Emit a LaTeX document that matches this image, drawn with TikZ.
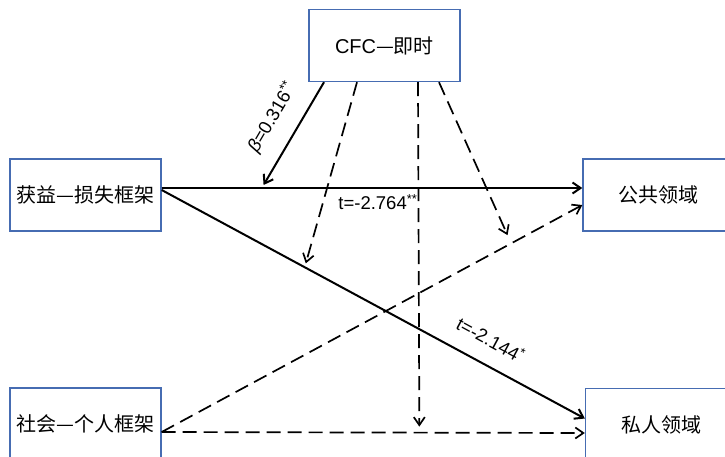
\documentclass[tikz,border=0pt]{standalone}
\usepackage{fontspec}
\setmainfont{Liberation Sans}
\newfontfamily\cjk{Noto Sans CJK SC}
\usetikzlibrary{arrows.meta, calc}
\definecolor{boxblue}{RGB}{70,108,178}
\begin{document}
\begin{tikzpicture}[x=1pt, y=-1pt,
  box/.style={draw=boxblue, line width=1.4pt, minimum width=151pt, minimum height=72pt, inner sep=0pt, font=\fontsize{20}{22}\selectfont\cjk},
  solidarrow/.style={line width=2pt, -{Straight Barb[length=8pt, width=11pt]}},
  dasharrow/.style={solidarrow, line width=1.7pt, dash pattern=on 14pt off 7pt},
  lab/.style={font=\fontsize{18.5}{20}\selectfont}]
\useasboundingbox (0,0) rectangle (725,456);
\clip (0,0) rectangle (725,456);
\node[box] (cfc) at (384.5,45.5) {{\rmfamily CFC}—即时};
\node[box] (gain) at (85.5,195) {获益—损失框架};
\node[box] (soc) at (85.5,424) {社会—个人框架};
\node[box] (pub) at (658.5,195) {公共领域};
\node[box] (priv) at (661,424.5) {私人领域};
\draw[solidarrow] ([yshift=7pt]gain.east) -- coordinate[pos=0.238] (m1)
  node[lab, pos=0.514, below=2pt] {t=-2.764\textsuperscript{**}} ([yshift=7pt]pub.west);
\draw[solidarrow] ([yshift=5pt]gain.east) -- coordinate[pos=0.338] (m2)
  node[lab, pos=0.75, sloped, above=13pt] {t=-2.144\textsuperscript{*}} ([yshift=6pt]priv.west);
\draw[dasharrow] ([yshift=-8pt]soc.east) -- coordinate[pos=0.609] (m3) ([yshift=-8.5pt]priv.west);
\draw[dasharrow] ([yshift=-8pt]soc.east) -- coordinate[pos=0.831] (m4) ([yshift=-10pt]pub.west);
\draw[solidarrow, shorten >=3.5pt] ([xshift=-60.5pt]cfc.south) --
  node[lab, pos=0.46, sloped, above=13pt] {\textit{β}=0.316\textsuperscript{**}} (m1);
\draw[dasharrow, shorten >=4pt] ([xshift=-27.5pt]cfc.south) -- (m2);
\draw[dasharrow, shorten >=6pt] ([xshift=33.5pt]cfc.south) -- (m3);
\draw[dasharrow, shorten >=9pt] ([xshift=54.5pt]cfc.south) -- (m4);
\end{tikzpicture}
\end{document}
